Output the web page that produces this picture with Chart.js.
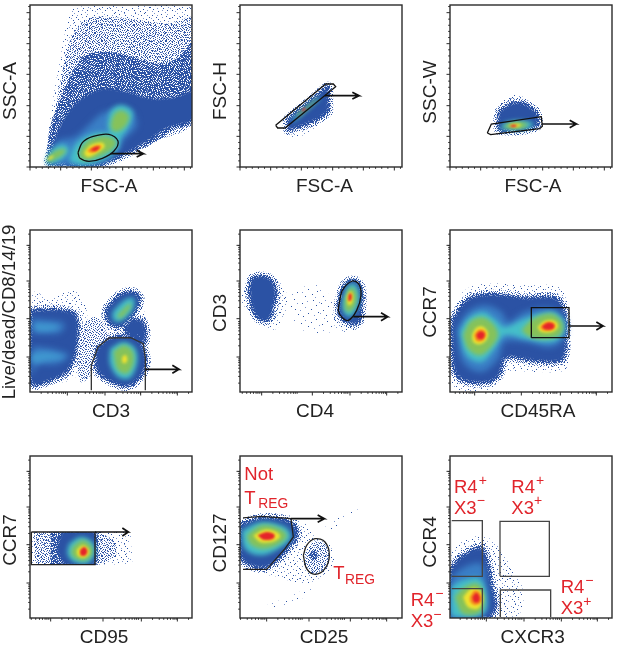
<!DOCTYPE html>
<html>
<head>
<meta charset="utf-8">
<title>Gating strategy</title>
<script src="https://cdn.jsdelivr.net/npm/chart.js@4/dist/chart.umd.min.js"></script>
<style>
  html, body { margin: 0; padding: 0; background: #fff; overflow: hidden; }
  canvas { position: absolute; }
</style>
</head>
<body>
<script>
// all signal values are in arbitrary channel units, 0-486 on both axes
const linearMajor = [0, 92, 184, 278, 370, 463];
const logYMajor = [105, 220, 333, 440];
const cd3Major = [112, 225, 332, 442];
const cd4Major = [65, 217, 330, 440];
const cd45raMajor = [74, 214, 331, 439];
const cd95Major = [62, 219, 334, 442];
const cd25Major = [80, 207, 331, 440];
const cxcr3Major = [109, 222, 334, 442];

// SSC-A / FSC-A
const p1Sparse = [[47,1],[52,78],[62,158],[82,278],[102,388],[122,468],[172,482],[312,482],[487,482],[487,133],[432,113],[382,78],[322,53],[262,28],[212,8],[162,1]];
const p1Upper = [[55,60],[72,150],[92,260],[125,390],[175,445],[300,445],[420,430],[487,445],[487,135],[380,78],[262,25],[160,5]];
const p1Mid = [[50,5],[58,110],[85,190],[120,270],[165,335],[240,345],[310,330],[385,310],[440,325],[487,370],[487,135],[430,112],[380,78],[320,50],[262,25],[212,6]];
const p1Solid = [[58,15],[78,95],[115,165],[155,205],[220,235],[290,225],[365,205],[440,210],[487,225],[487,145],[410,118],[345,75],[262,30],[200,8]];
const p1Light = [[60,5],[80,75],[135,90],[170,120],[225,165],[300,170],[320,125],[280,80],[250,30],[180,8]];
const p1CyanA = [[47,13],[62,48],[97,68],[117,53],[102,28],[62,10]];
const p1GreenA = [[52,20],[72,46],[102,55],[107,46],[82,26],[57,16]];
const p1YellowA = [[52,22],[60,32],[70,34],[66,26],[56,20]];
const p1CyanB = [[232,123],[242,168],[272,186],[307,168],[302,133],[277,93],[257,78],[242,93]];
const p1GreenB = [[242,128],[252,158],[274,170],[297,153],[287,123],[262,106],[247,108]];
const p1CyanC = [[117,18],[137,68],[182,98],[232,103],[267,88],[262,53],[212,18],[152,6]];
const p1GreenC = [[147,48],[174,80],[222,93],[257,80],[252,58],[212,33],[172,20],[150,26]];
const p1YellowC = [[162,43],[182,66],[217,73],[224,61],[197,40],[172,30]];
const p1OrangeC = [[170,48],[192,63],[212,65],[212,56],[187,42]];
const p1RedC = [[180,51],[197,61],[209,60],[197,48]];
const p1Gate = [[144,43],[157,73],[187,91],[237,98],[264,78],[252,48],[217,26],[177,17],[150,26]];
const p1Arrow = [[242,40],[340,40],[320,50],[340,40],[320,30]];

// FSC-H / FSC-A
const p2Sparse = [[145,127],[263,167],[263,150],[235,125],[195,98],[165,85],[150,97]];
const p2Solid = [[145,142],[263,239],[263,167],[235,147],[195,129],[145,112]];
const p2Cyan = [[155,142],[240,212],[240,204],[200,170],[160,135]];
const p2Green = [[170,155],[205,184],[232,206],[232,202],[205,176],[175,150]];
const p2Red = [[185,170],[195,178],[197,174],[188,167]];
const p2Gate = [[107,125],[257,249],[280,249],[287,241],[135,117],[113,117]];
const p2Arrow = [[255,214],[357,214],[337,224],[357,214],[337,204]];

// SSC-W / FSC-A
const p3Sparse = [[144,147],[149,187],[184,214],[214,212],[254,187],[264,157],[264,122],[214,102],[149,102]];
const p3Solid = [[146,122],[150,165],[189,190],[224,186],[258,162],[260,125],[209,112],[149,112]];
const p3Cyan = [[149,115],[164,132],[214,139],[249,132],[244,119],[204,112]];
const p3Green = [[159,119],[179,132],[214,134],[234,127],[209,115]];
const p3Yellow = [[172,124],[194,130],[214,127],[199,119]];
const p3Red = [[179,123],[189,127],[202,124],[189,120]];
const p3Gate = [[112,102],[124,129],[274,151],[277,122],[269,115],[122,97]];
const p3Arrow = [[277,129],[379,129],[359,140],[379,129],[359,118]];

// Live/dead / CD3
const p4SparseLeft = [[7,250],[12,300],[62,280],[127,305],[162,270],[172,200],[152,110],[142,50],[82,25],[7,20]];
const p4MidMiddle = [[152,190],[192,225],[228,190],[222,130],[182,50],[152,30],[142,110]];
const p4SparseRight = [[217,240],[252,290],[302,305],[332,280],[347,210],[347,150],[342,60],[322,20],[262,30],[192,50],[192,130],[222,180]];
const p4SolidLeft = [[7,242],[72,245],[132,232],[142,190],[132,110],[108,62],[62,38],[7,28]];
const p4LightUpperBand = [[7,220],[52,215],[102,205],[92,180],[32,175],[7,180]];
const p4LightLowerBand = [[7,135],[62,130],[117,110],[82,85],[22,80],[7,50]];
const p4CyanUpperBand = [[12,205],[77,200],[82,190],[22,185]];
const p4CyanLowerBand = [[7,115],[52,118],[102,105],[52,95],[7,90]];
const p4SolidTop = [[232,250],[272,290],[307,298],[327,280],[312,240],[282,205],[252,200],[232,220]];
const p4SolidSide = [[304,215],[337,210],[342,150],[312,145],[287,190]];
const p4SolidBottom = [[202,130],[242,160],[312,160],[342,120],[342,70],[312,30],[282,20],[232,40],[202,70]];
const p4CyanTop = [[247,240],[287,278],[312,280],[307,245],[272,212],[250,215]];
const p4GreenTop = [[262,230],[297,265],[304,260],[287,235],[267,220]];
const p4CyanBottom = [[240,130],[280,150],[315,132],[322,90],[300,42],[265,45],[240,85]];
const p4GreenBottom = [[250,122],[282,140],[308,122],[310,85],[290,55],[262,68]];
const p4YellowBottom = [[276,105],[286,112],[292,100],[288,88],[278,88]];
const p4Gate = [[184,5],[184,80],[204,135],[237,162],[302,163],[340,145],[346,100],[346,5]];
const p4Arrow = [[347,68],[447,68],[427,80],[447,68],[427,56]];

// CD3 / CD4
const p5SparseLeft = [[5,290],[30,340],[105,340],[145,280],[130,230],[110,190],[75,195],[45,230],[10,260]];
const p5SolidLeft = [[30,305],[40,340],[85,340],[105,305],[100,265],[85,220],[60,220],[40,250]];
const p5FaintMiddle = [[145,300],[245,320],[285,190],[205,180],[165,210]];
const p5SparseRight = [[285,270],[305,315],[340,335],[373,315],[375,260],[355,190],[295,185],[280,220]];
const p5SolidRight = [[300,275],[315,320],[340,333],[360,315],[363,265],[353,210],[320,212],[298,240]];
const p5Cyan = [[307,275],[325,320],[345,325],[357,300],[353,255],[330,225],[310,240]];
const p5Green = [[315,275],[327,310],[342,310],[350,285],[343,255],[325,240],[315,250]];
const p5Yellow = [[320,285],[330,302],[338,295],[337,268],[325,260]];
const p5Red = [[325,287],[330,297],[335,290],[333,275],[326,273]];
const p5Gate = [[298,268],[307,305],[337,333],[357,323],[363,290],[350,245],[325,215],[305,225],[295,245]];
const p5Arrow = [[340,226],[443,226],[423,238],[443,226],[423,214]];

// CCR7 / CD45RA
const p6Sparse = [[4,230],[44,305],[114,325],[224,320],[324,315],[354,260],[359,150],[349,70],[264,60],[164,60],[144,20],[84,2],[9,5],[2,130]];
const p6Solid = [[9,215],[54,275],[124,290],[224,280],[314,280],[340,245],[345,160],[335,100],[264,95],[164,105],[144,50],[94,30],[24,50],[9,130]];
const p6Light = [[19,190],[54,240],[104,260],[154,240],[174,210],[224,240],[304,250],[344,220],[344,165],[304,135],[224,150],[164,150],[144,100],[94,60],[39,90]];
const p6Cyan = [[29,180],[54,220],[99,240],[139,215],[164,195],[224,220],[304,240],[339,215],[339,175],[304,150],[224,160],[164,170],[134,130],[94,90],[49,110]];
const p6GreenLeft = [[39,170],[59,210],[94,225],[129,205],[144,170],[124,135],[89,110],[54,130]];
const p6GreenRight = [[214,185],[249,220],[304,235],[336,210],[334,175],[294,160],[239,165]];
const p6YellowLeft = [[66,170],[78,192],[99,196],[114,178],[108,155],[89,143],[70,150]];
const p6YellowRight = [[262,195],[286,214],[316,212],[324,195],[306,180],[274,180]];
const p6OrangeLeft = [[72,170],[84,186],[102,186],[108,170],[97,153],[79,153]];
const p6OrangeRight = [[270,195],[289,210],[312,207],[316,195],[302,185],[278,185]];
const p6RedLeft = [[79,172],[91,182],[104,175],[99,160],[84,160]];
const p6RedRight = [[276,197],[294,208],[312,202],[309,190],[284,188]];
const p6Gate = [[244,163],[244,253],[357,253],[357,163]];
const p6Arrow = [[357,198],[459,198],[439,210],[459,198],[439,186]];

// CCR7 / CD95
const p7Band = [160, 258];
const p7Sparse = [[4,258],[302,258],[307,160],[4,160]];
const p7Mid = [[12,258],[192,258],[252,233],[257,183],[192,160],[22,160]];
const p7Heavy = [[62,258],[192,258],[197,160],[62,160]];
const p7Solid = [[95,258],[194,258],[194,160],[105,160],[80,203]];
const p7Cyan = [[117,223],[152,243],[187,228],[194,193],[174,165],[132,168],[112,193]];
const p7Green = [[127,213],[157,233],[182,218],[187,193],[167,173],[137,178],[124,193]];
const p7Yellow = [[140,203],[157,218],[175,208],[177,193],[162,181],[144,186]];
const p7Red = [[150,203],[162,213],[172,203],[167,188],[152,188]];
const p7Gate = [[4,258],[195,258],[195,160],[4,160]];
const p7Arrow = [[195,258],[295,258],[277,270],[295,258],[277,246]];

// CD127 / CD25
const p8Sparse = [[3,293],[45,311],[145,308],[195,283],[225,243],[270,218],[280,163],[235,118],[185,103],[115,123],[45,138],[3,163]];
const p8FaintDiagonal = [[255,273],[355,343],[360,333],[275,263]];
const p8FaintBottom = [[65,33],[145,63],[215,93],[195,63],[95,28]];
const p8Solid = [[3,278],[65,298],[145,288],[170,253],[145,213],[85,158],[25,163],[3,193]];
const p8Cyan = [[5,263],[65,288],[135,273],[153,243],[125,213],[65,188],[15,208]];
const p8Green = [[20,248],[65,278],[120,268],[140,245],[110,218],[65,208],[30,223]];
const p8Yellow = [[40,248],[75,265],[110,258],[120,243],[95,228],[60,228]];
const p8Red = [[53,248],[80,258],[103,251],[100,238],[70,235]];
const p8TregMid = [[195,193],[225,233],[260,213],[265,163],[225,133],[195,153]];
const p8TregHeavy = [[208,190],[220,205],[232,195],[228,175],[213,178]];
const p8GateNotTreg = [[2,300],[65,305],[153,298],[160,243],[135,208],[80,146],[2,146]];
const p8GateTreg = [[190,188],[200,218],[225,238],[255,228],[268,188],[255,148],[225,131],[200,148]];
const p8Arrow = [[153,298],[253,298],[233,309],[253,298],[233,287]];
const p8Labels = [['Not',13,413,18.5],['T',13,343,18.5],['REG',55,330,13.8],['T',280,118,18.5],['REG',315,103,13.8]];

// CCR4 / CXCR3
const p9Sparse = [[4,203],[34,228],[99,248],[124,233],[154,203],[194,133],[219,83],[209,13],[164,3],[4,3]];
const p9Solid = [[4,145],[34,180],[92,208],[112,160],[122,103],[135,35],[115,5],[4,3]];
const p9Light = [[4,123],[44,153],[94,163],[109,103],[114,43],[99,8],[4,3]];
const p9Cyan = [[4,93],[39,113],[89,118],[109,63],[99,13],[14,3],[4,13]];
const p9Green = [[14,63],[44,93],[84,103],[102,63],[92,18],[39,13]];
const p9Yellow = [[39,63],[64,88],[92,81],[99,53],[84,28],[54,33]];
const p9Orange = [[59,63],[74,83],[92,73],[94,48],[76,38],[61,48]];
const p9Red = [[67,63],[79,76],[89,63],[86,48],[72,48]];
const p9GateR4X3Neg = [[2,125],[2,292],[97,292],[97,125]];
const p9GateR4X3Pos = [[150,125],[150,290],[298,290],[298,125]];
const p9GateNegNeg = [[2,88],[97,88],[97,3]];
const p9GateNegPos = [[151,3],[151,84],[302,84],[302,3]];
const p9Labels = [
  ['R4',12,375,18.5],['+',86,400,14],['X3',12,313,18.5],['\u2212',80,338,14],
  ['R4',184,375,18.5],['+',258,400,14],['X3',184,313,18.5],['+',252,338,14],
  ['R4',332,75,18.5],['\u2212',406,100,14],['X3',332,11,18.5],['+',400,36,14],
  ['R4',-118,35,18.5],['\u2212',-44,60,14],['X3',-118,-27,18.5],['\u2212',-50,-2,14]
];

// dither tiles for the speckled, low density parts of the plots
const tileFaint = [
  '....+...............', '..............#.....', '....................', '.......#............',
  '....................', '.................+..', '..#.................', '....................',
  '...........#........', '....................', '.....................'.slice(1), '...............#....',
  '...+................', '....................', '.........+..........', '....................',
  '..................#.', '.....#..............', '....................', '............+.......'
];
const tileSparse = [
  '....#.........+.....', '.........#..........', '..+............#....', '......#.............',
  '...........+.....#..', '#...................', '.....+.....#........', '..............#....+',
  '..#.................', '........#.......+...', '...............#....', '.+.......+..........',
  '.....#..........#...', '...........#........', '#.................+.', '.......+.....#......',
  '...#................', '............+....#..', '..+.....#...........', '...............+....'
];
const tileMid = [
  '#..#.+..#...#.+.', '..+...#...#.....', '.#..#...+...#..#', '...#..#...#...+.',
  '#.+.....#..+.#..', '..#..#.+...#...#', '.+..#...#.#..+..', '#.....#.....#..#',
  '..#.+..#.#...#..', '.#...#....+.#..+', '...#...#.#.....#', '+.#..#....#.+.#.',
  '..#....#.+..#...', '#...#.#...#...#.', '.+.#...+.#..#...', '#....#.....#..+#'
];
const tileHeavy = [
  '##.#+##.#.##+#.#', '.##+#.##.#.##.##', '#.##.#+#.##.#+#.', '##.#.##.##.#+##.',
  '.#+##.#.#.##.#.#', '#.#.##.+##.#.###', '##+#.#.##.##.#.#', '.##.#.##+#.#.##.',
  '#.#+##.#.##.##.#', '##.#.##.#.+#.#.#', '.#.##.#.##.##.##', '#+#.#.##.#+#.#.#',
  '##.##.#.##.#.##.', '#.#.#+##.#.##.#+', '.##.##.#.##.#.##', '#.#.#.##+.#.#.#.'
];
// quarter turns used to lay the tiles out without a visible repeat
const tileTurns = [
  [0, 1, 3, 2],
  [2, 3, 0, 1],
  [1, 0, 2, 3],
  [3, 2, 1, 0]
];

const FONT = 'Liberation Sans, Arial, sans-serif';
const BLUE = '#2b52a4';
const colours = {
  solid: BLUE, light: '#3a7fc6', teal: '#3f97cf', cyan: '#45bfc9', green: '#86c25a',
  yellow: '#efe22f', orange: '#f6931e', red: '#e5242a'
};
const blurs = { solid: 1, light: 3, teal: 2.5, cyan: 2.5, green: 2, yellow: 1.5, orange: 1.2, red: 0.9 };

function makeTile(rows) {
  const size = rows.length;
  const cell = document.createElement('canvas');
  cell.width = size;
  cell.height = size;
  const g = cell.getContext('2d');
  rows.forEach((row, y) => {
    [...row].forEach((ch, x) => {
      if (ch === '.') return;
      g.fillStyle = ch === '#' ? BLUE : '#7f98d0';
      g.fillRect(x, y, 1, 1);
    });
  });
  const big = document.createElement('canvas');
  big.width = size * 4;
  big.height = size * 4;
  const b = big.getContext('2d');
  tileTurns.forEach((row, j) => {
    row.forEach((turn, i) => {
      b.save();
      b.translate(i * size + size / 2, j * size + size / 2);
      b.rotate(turn * Math.PI / 2);
      b.drawImage(cell, -size / 2, -size / 2);
      b.restore();
    });
  });
  return b.createPattern(big, 'repeat');
}
const tiles = { faint: makeTile(tileFaint), sparse: makeTile(tileSparse), mid: makeTile(tileMid), heavy: makeTile(tileHeavy) };

const logFractions = [0.30, 0.48, 0.60, 0.70, 0.78, 0.85, 0.90, 0.95];

function minorLinear(major) {
  const out = [];
  for (let i = 0; i < major.length; i++) {
    for (let k = 1; k < 5; k++) {
      const v = major[i] + k * 18.4;
      if (v < 486) out.push(v);
    }
  }
  return out;
}

function minorLog(major) {
  const d = 112;
  const out = [];
  [major[0] - d, ...major].forEach(m => {
    logFractions.forEach(f => {
      const v = m + d * f;
      if (v > 0 && v < 486) out.push(v);
    });
  });
  return out;
}

// fills each density layer along the dataset's line path
const densityPlugin = {
  id: 'density',
  beforeDatasetDraw(chart, args) {
    const ds = chart.data.datasets[args.index];
    if (!ds.layer) return;
    const a = chart.chartArea;
    const ctx = chart.ctx;
    const line = args.meta.dataset;
    line.updateControlPoints(a, 'x');
    const path = new Path2D();
    line.path(path);
    path.closePath();
    ctx.save();
    ctx.beginPath();
    if (ds.band) {
      const y0 = chart.scales.y.getPixelForValue(ds.band[1]);
      const y1 = chart.scales.y.getPixelForValue(ds.band[0]);
      ctx.rect(a.left, y0, a.width, y1 - y0);
    } else {
      ctx.rect(a.left, a.top, a.width, a.height);
    }
    ctx.clip();
    ctx.lineJoin = 'round';
    if (tiles[ds.layer]) {
      ctx.filter = 'blur(0.45px)';
      ctx.fillStyle = tiles[ds.layer];
    } else {
      if (ds.layer === 'solid') {
        // soft speckled rim around the solid body
        ctx.filter = 'blur(0.45px)';
        ctx.strokeStyle = tiles.mid;
        ctx.lineWidth = 11;
        ctx.stroke(path);
        ctx.strokeStyle = tiles.heavy;
        ctx.lineWidth = 5;
        ctx.stroke(path);
      }
      ctx.filter = 'blur(' + blurs[ds.layer] + 'px)';
      ctx.fillStyle = colours[ds.layer];
    }
    ctx.fill(path);
    ctx.restore();
  }
};

// frame, tick marks and in-plot labels
const framePlugin = {
  id: 'frame',
  afterLayout(chart, args, opts) {
    const x = chart.scales.x, y = chart.scales.y;
    x.left += opts.xShift; x.right += opts.xShift;
    y.top += opts.yShift; y.bottom += opts.yShift;
  },
  afterDraw(chart, args, opts) {
    const ctx = chart.ctx;
    const a = chart.chartArea;
    const x = chart.scales.x, y = chart.scales.y;
    ctx.save();
    ctx.strokeStyle = '#2b2b2b';
    ctx.lineWidth = 1.4;
    ctx.strokeRect(a.left, a.top, a.width, a.height);
    ctx.lineWidth = 1;
    const mark = (scale, list, len) => {
      list.forEach(v => {
        const p = scale.getPixelForValue(v);
        ctx.beginPath();
        if (scale === x) { ctx.moveTo(p, a.bottom); ctx.lineTo(p, a.bottom + len); }
        else { ctx.moveTo(a.left, p); ctx.lineTo(a.left - len, p); }
        ctx.stroke();
      });
    };
    mark(x, opts.xMajor, 3.5);
    mark(x, opts.xMinor, 1.8);
    mark(y, opts.yMajor, 3.5);
    mark(y, opts.yMinor, 1.8);
    ctx.fillStyle = '#e1242b';
    ctx.textBaseline = 'alphabetic';
    opts.labels.forEach(([text, lx, ly, size]) => {
      ctx.font = size + 'px ' + FONT;
      ctx.fillText(text, x.getPixelForValue(lx), y.getPixelForValue(ly));
    });
    ctx.restore();
  }
};

function closed(points) {
  return [...points, points[0]];
}

function panel(cfg) {
  const canvas = document.createElement('canvas');
  canvas.width = 205;
  canvas.height = 205;
  canvas.style.left = (cfg.left - 40) + 'px';
  canvas.style.top = (cfg.top - 12) + 'px';
  document.body.appendChild(canvas);

  const datasets = [];
  cfg.layers.forEach(([layer, points, tension]) => {
    datasets.push({
      layer: layer, band: cfg.band, data: closed(points), showLine: true,
      tension: tension === undefined ? 0.35 : tension,
      borderWidth: 0, pointRadius: 0, capBezierPoints: false
    });
  });
  (cfg.gates || []).forEach(([points, tension, isClosed]) => {
    datasets.push({ data: isClosed ? closed(points) : points, showLine: true, tension: tension, borderColor: cfg.gateColour || '#111', borderWidth: 1.3, pointRadius: 0 });
  });
  if (cfg.arrow) {
    datasets.push({ data: cfg.arrow, showLine: true, tension: 0, borderColor: '#111', borderWidth: 1.7, pointRadius: 0 });
  }
  // first dataset is painted last in Chart.js
  datasets.reverse();

  const axis = (text, size) => ({
    type: 'linear', min: 0, max: 486,
    grid: { display: false },
    border: { display: false },
    ticks: { display: false },
    title: { display: true, text: text, color: '#222', padding: 0, font: { family: FONT, size: size || 19 } }
  });
  const xAxis = axis(cfg.xTitle);
  xAxis.afterFit = s => { s.height = 31; };
  const yAxis = axis(cfg.yTitle, cfg.yTitleSize);
  yAxis.afterFit = s => { s.width = 31; };

  new Chart(canvas, {
    type: 'scatter',
    data: { datasets: datasets },
    plugins: [densityPlugin, framePlugin],
    options: {
      responsive: false,
      animation: false,
      layout: { padding: { left: 9, right: 3, top: 12, bottom: 0 } },
      scales: { x: xAxis, y: yAxis },
      plugins: {
        legend: { display: false },
        tooltip: { enabled: false },
        frame: {
          xMajor: cfg.xMajor, xMinor: cfg.xMinor, yMajor: cfg.yMajor, yMinor: cfg.yMinor,
          xShift: cfg.xShift, yShift: cfg.yShift, labels: cfg.labels || []
        }
      }
    }
  });
}

const rowTop = [5, 230, 456];
const colLeft = [30, 240, 450];
const linearTicks = { xMajor: linearMajor, xMinor: minorLinear(linearMajor), yMajor: linearMajor, yMinor: minorLinear(linearMajor) };
const logTicks = major => ({ xMajor: major, xMinor: minorLog(major), yMajor: logYMajor, yMinor: minorLog(logYMajor) });

panel({
  left: colLeft[0], top: rowTop[0], xTitle: 'FSC-A', yTitle: 'SSC-A', xShift: -2, yShift: 5, ...linearTicks,
  layers: [['sparse', p1Sparse], ['mid', p1Upper], ['heavy', p1Mid], ['solid', p1Solid], ['light', p1Light],
    ['cyan', p1CyanA], ['green', p1GreenA], ['yellow', p1YellowA],
    ['cyan', p1CyanB], ['green', p1GreenB],
    ['cyan', p1CyanC], ['green', p1GreenC], ['yellow', p1YellowC], ['orange', p1OrangeC], ['red', p1RedC]],
  gates: [[p1Gate, 0.35, true]], arrow: p1Arrow
});
panel({
  left: colLeft[1], top: rowTop[0], xTitle: 'FSC-A', yTitle: 'FSC-H', xShift: 3.5, yShift: 5, ...linearTicks,
  layers: [['sparse', p2Sparse, 0], ['solid', p2Solid, 0], ['cyan', p2Cyan, 0], ['green', p2Green, 0], ['red', p2Red]],
  gates: [[p2Gate, 0, true]], arrow: p2Arrow
});
panel({
  left: colLeft[2], top: rowTop[0], xTitle: 'FSC-A', yTitle: 'SSC-W', xShift: 2, yShift: 6, ...linearTicks,
  layers: [['sparse', p3Sparse], ['solid', p3Solid, 0.2], ['cyan', p3Cyan], ['green', p3Green], ['yellow', p3Yellow], ['red', p3Red]],
  gates: [[p3Gate, 0, true]], arrow: p3Arrow
});

panel({
  left: colLeft[0], top: rowTop[1], xTitle: 'CD3', yTitle: 'Live/dead/CD8/14/19', yTitleSize: 18.6, xShift: 0, yShift: 1, ...logTicks(cd3Major),
  layers: [['sparse', p4SparseLeft], ['mid', p4MidMiddle], ['sparse', p4SparseRight],
    ['solid', p4SolidLeft], ['light', p4LightUpperBand], ['light', p4LightLowerBand], ['teal', p4CyanUpperBand], ['teal', p4CyanLowerBand],
    ['solid', p4SolidTop], ['solid', p4SolidSide], ['solid', p4SolidBottom],
    ['cyan', p4CyanTop], ['green', p4GreenTop], ['cyan', p4CyanBottom], ['green', p4GreenBottom], ['yellow', p4YellowBottom]],
  gates: [[p4Gate, 0, false]], gateColour: '#333', arrow: p4Arrow
});
panel({
  left: colLeft[1], top: rowTop[1], xTitle: 'CD4', yTitle: 'CD3', xShift: -6, yShift: 2, ...logTicks(cd4Major),
  layers: [['sparse', p5SparseLeft], ['solid', p5SolidLeft], ['faint', p5FaintMiddle], ['sparse', p5SparseRight],
    ['solid', p5SolidRight], ['cyan', p5Cyan], ['green', p5Green], ['yellow', p5Yellow], ['red', p5Red]],
  gates: [[p5Gate, 0.35, true]], arrow: p5Arrow
});
panel({
  left: colLeft[2], top: rowTop[1], xTitle: 'CD45RA', yTitle: 'CCR7', xShift: 7, yShift: 1, ...logTicks(cd45raMajor),
  layers: [['sparse', p6Sparse], ['solid', p6Solid], ['light', p6Light], ['cyan', p6Cyan], ['green', p6GreenLeft], ['green', p6GreenRight],
    ['yellow', p6YellowLeft], ['yellow', p6YellowRight], ['orange', p6OrangeLeft], ['orange', p6OrangeRight], ['red', p6RedLeft], ['red', p6RedRight]],
  gates: [[p6Gate, 0, true]], arrow: p6Arrow
});

panel({
  left: colLeft[0], top: rowTop[2], xTitle: 'CD95', yTitle: 'CCR7', xShift: -7, yShift: 3, ...logTicks(cd95Major), band: p7Band,
  layers: [['sparse', p7Sparse, 0], ['mid', p7Mid, 0.2], ['heavy', p7Heavy, 0], ['solid', p7Solid, 0.1], ['cyan', p7Cyan], ['green', p7Green], ['yellow', p7Yellow], ['red', p7Red]],
  gates: [[p7Gate, 0, true]], gateColour: '#222', arrow: p7Arrow
});
panel({
  left: colLeft[1], top: rowTop[2], xTitle: 'CD25', yTitle: 'CD127', xShift: 3, yShift: 6, ...logTicks(cd25Major),
  layers: [['sparse', p8Sparse], ['faint', p8FaintDiagonal], ['faint', p8FaintBottom], ['solid', p8Solid],
    ['cyan', p8Cyan], ['green', p8Green], ['yellow', p8Yellow], ['red', p8Red], ['mid', p8TregMid], ['heavy', p8TregHeavy]],
  gates: [[p8GateNotTreg, 0, true], [p8GateTreg, 0.35, true]], gateColour: '#222', arrow: p8Arrow, labels: p8Labels
});
panel({
  left: colLeft[2], top: rowTop[2], xTitle: 'CXCR3', yTitle: 'CCR4', xShift: 1.7, yShift: 5, ...logTicks(cxcr3Major),
  layers: [['sparse', p9Sparse], ['solid', p9Solid], ['light', p9Light], ['cyan', p9Cyan], ['green', p9Green], ['yellow', p9Yellow], ['orange', p9Orange], ['red', p9Red]],
  gates: [[p9GateR4X3Neg, 0, true], [p9GateR4X3Pos, 0, true], [p9GateNegNeg, 0, false], [p9GateNegPos, 0, false]],
  gateColour: '#444', labels: p9Labels
});
</script>
</body>
</html>
